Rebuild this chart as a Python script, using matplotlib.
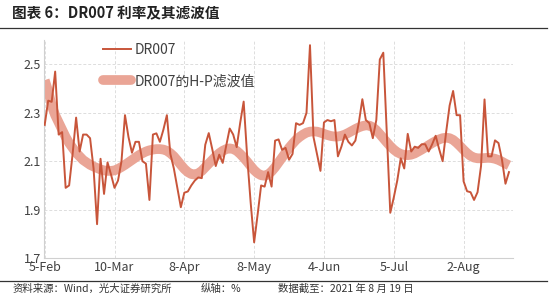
import matplotlib.pyplot as plt
import matplotlib.lines as mlines

plt.rcParams['font.family'] = ['Noto Sans CJK SC', 'DejaVu Sans']

# trading-day index axis, labels every 20 trading days
tick_pos = [0, 20, 40, 60, 80, 100, 120]
tick_labels = ['5-Feb', '10-Mar', '8-Apr', '8-May', '4-Jun', '5-Jul', '2-Aug']

dr007 = [
    2.25, 2.35, 2.345, 2.47, 2.21, 2.22, 1.99, 2.0, 2.13, 2.28,
    2.14, 2.21, 2.21, 2.195, 2.07, 1.84, 2.11, 1.965, 2.095, 2.045,
    1.99, 2.02, 2.10, 2.29, 2.20, 2.135, 2.18, 2.18, 2.10, 2.09,
    1.94, 2.21, 2.215, 2.18, 2.23, 2.29, 2.13, 2.07, 1.99, 1.91,
    1.97, 1.975, 2.0, 2.02, 2.033, 2.03, 2.168, 2.216, 2.15, 2.08,
    2.127, 2.093, 2.165, 2.235, 2.21, 2.158, 2.258, 2.346, 2.12, 1.93,
    1.765, 1.88, 2.0, 1.995, 2.055, 1.995, 2.185, 2.19, 2.147, 2.155,
    2.106, 2.13, 2.257, 2.25, 2.257, 2.30, 2.579, 2.2, 2.13, 2.06,
    2.26, 2.27, 2.265, 2.27, 2.12, 2.16, 2.21, 2.18, 2.165, 2.185,
    2.26, 2.356, 2.27, 2.257, 2.195, 2.27, 2.52, 2.548, 2.22, 1.887,
    1.95, 2.02, 2.112, 2.07, 2.213, 2.14, 2.16, 2.155, 2.17, 2.17,
    2.14, 2.17, 2.205, 2.15, 2.10, 2.22, 2.33, 2.39, 2.29, 2.29,
    2.017, 1.976, 1.972, 1.94, 1.972, 2.08, 2.355, 2.12, 2.12, 2.186,
    2.175, 2.106, 2.007, 2.055,
]

dr007_hp = [
    2.435, 2.39, 2.33, 2.29, 2.26, 2.23, 2.2, 2.175, 2.155, 2.135,
    2.12, 2.105, 2.095, 2.085, 2.078, 2.072, 2.066, 2.062, 2.06, 2.06,
    2.062, 2.068, 2.076, 2.085, 2.095, 2.105, 2.115, 2.125, 2.133, 2.14,
    2.145, 2.148, 2.15, 2.15, 2.148, 2.143, 2.133, 2.12, 2.103, 2.085,
    2.068, 2.055, 2.047, 2.045, 2.05, 2.06, 2.075, 2.09, 2.105, 2.12,
    2.133, 2.143, 2.15, 2.153, 2.15, 2.143, 2.13, 2.115, 2.098, 2.08,
    2.063, 2.05, 2.042, 2.04, 2.045, 2.058, 2.075, 2.095, 2.115, 2.135,
    2.155, 2.172, 2.188, 2.2, 2.21, 2.218, 2.222, 2.223, 2.222, 2.218,
    2.213, 2.208, 2.204, 2.202, 2.202, 2.205, 2.21, 2.217, 2.225, 2.233,
    2.24, 2.245, 2.248, 2.247, 2.24, 2.228, 2.212, 2.195, 2.178, 2.162,
    2.148, 2.137, 2.13, 2.126, 2.125, 2.127, 2.132, 2.14, 2.148, 2.157,
    2.166, 2.175, 2.183, 2.19, 2.195, 2.197, 2.195, 2.188, 2.176, 2.162,
    2.147, 2.133, 2.122, 2.115, 2.112, 2.112, 2.113, 2.114, 2.113, 2.11,
    2.105, 2.098, 2.09, 2.083,
]

x = list(range(len(dr007)))

fig = plt.figure(figsize=(5.5, 2.97), dpi=100)
ax = fig.add_axes([0.08, 0.131, 0.853, 0.734])

ax.plot(x, dr007_hp, color='#EAA596', lw=7, solid_capstyle='butt', zorder=2)
ax.plot(x, dr007, color='#C8553A', lw=1.4, zorder=3)

ax.set_xlim(-0.2, 134.2)
ax.set_ylim(1.7, 2.6)
ax.set_yticks([1.7, 1.9, 2.1, 2.3, 2.5])
ax.set_yticklabels(['1.7', '1.9', '2.1', '2.3', '2.5'])
ax.set_xticks(tick_pos)
ax.set_xticklabels(tick_labels)
ax.tick_params(length=0, labelsize=9, colors='#404040', pad=2)
ax.grid(True, ls=(0, (3, 2)), color='#DDDDDD', lw=0.7)
ax.set_axisbelow(True)
for s in ['top', 'right']:
    ax.spines[s].set_visible(False)
for s in ['left', 'bottom']:
    ax.spines[s].set_color('#D0D0D0')
    ax.spines[s].set_linewidth(0.8)

h1 = mlines.Line2D([], [], color='#C8553A', lw=1.4)
h2 = mlines.Line2D([], [], color='#EAA596', lw=7, solid_capstyle='round')
ax.legend([h1, h2], ['DR007', 'DR007的H-P滤波值'], loc='upper left',
          bbox_to_anchor=(0.1, 1.045), frameon=False, fontsize=10,
          handlelength=2.0, labelspacing=1.25, handletextpad=0.25,
          labelcolor='#404040')

fig.text(0.022, 0.955, '图表 6：DR007 利率及其滤波值', fontsize=10.5,
         fontweight='bold', color='#222222', va='center')
fig.add_artist(mlines.Line2D([0.0, 0.995], [0.905, 0.905], color='#333333', lw=0.9))
fig.add_artist(mlines.Line2D([0.0, 0.995], [0.055, 0.055], color='#333333', lw=0.9))
fig.text(0.022, 0.028, '资料来源：Wind，光大证券研究所', fontsize=7.5, color='#333333', va='center')
fig.text(0.365, 0.028, '纵轴：%', fontsize=7.5, color='#333333', va='center')
fig.text(0.505, 0.028, '数据截至：2021 年 8 月 19 日', fontsize=7.5, color='#333333', va='center')

plt.savefig('out.png', dpi=100)
